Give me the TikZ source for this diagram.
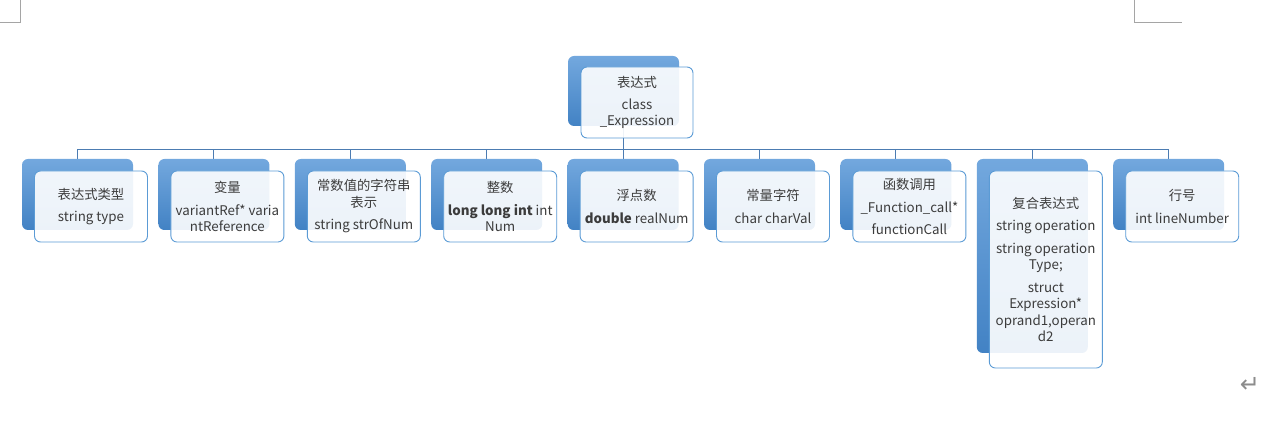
\documentclass[tikz,border=0pt]{standalone}
\usepackage{fontspec}
\setmainfont{Noto Sans CJK SC}
\newfontfamily\symfont{DejaVu Sans}
\usetikzlibrary{backgrounds}
\definecolor{bktop}{RGB}{115,168,222}
\definecolor{bkbot}{RGB}{66,130,196}
\definecolor{fbord}{RGB}{91,155,213}
\definecolor{conn}{RGB}{76,124,178}
\definecolor{txt}{RGB}{60,60,60}
\definecolor{pmark}{RGB}{165,165,165}
\definecolor{retmark}{RGB}{140,140,140}
\tikzset{
  backbox/.style={rectangle, rounded corners=6pt, minimum width=111pt, minimum height=71pt,
    inner sep=0pt, outer sep=0pt, top color=bktop, bottom color=bkbot, draw=none, anchor=north west},
  frontbox/.style={rectangle, rounded corners=6pt, minimum width=113pt, minimum height=71pt,
    inner sep=2pt, outer sep=0pt, draw=fbord, line width=0.9pt, fill=white, fill opacity=0.9,
    draw opacity=1, text opacity=1, text=txt, anchor=north west, align=center,
    font=\fontsize{13.33}{16.5}\selectfont},
  connline/.style={draw=conn, line width=0.9pt},
  pagemark/.style={draw=pmark, line width=1pt},
}
\begin{document}
\begin{tikzpicture}[x=1pt,y=-1pt]
\useasboundingbox (0,0) rectangle (1285,427);

% page corner marks
\coordinate (tl1) at (20,0); \coordinate (tl2) at (20,23); \coordinate (tl3) at (0,23);
\draw[pagemark] (tl1) -- (tl2) -- (tl3);
\coordinate (tr1) at (1134,0); \coordinate (tr2) at (1134,23); \coordinate (tr3) at (1182,23);
\draw[pagemark] (tr1) -- (tr2) -- (tr3);

% root
\node[backbox, minimum height=70pt] (rootb) at (568,56) {};
\node[frontbox, minimum width=112pt] (root) at (581,67) {表达式\\[5pt]class\\\_Expression};

% children back boxes
\node[backbox] (c1b) at (22,159) {};
\node[backbox] (c2b) at (158.4,159) {};
\node[backbox] (c3b) at (294.8,159) {};
\node[backbox] (c4b) at (431.2,159) {};
\node[backbox] (c5b) at (567.6,159) {};
\node[backbox] (c6b) at (704,159) {};
\node[backbox] (c7b) at (840.4,159) {};
\node[backbox, minimum height=194pt] (c8b) at (976.8,159) {};
\node[backbox] (c9b) at (1113.2,159) {};

% children front boxes
\node[frontbox] (c1) at (34.5,171) {表达式类型\\[6pt]string type};
\node[frontbox] (c2) at (170.9,171) {变量\\[6pt]variantRef* varia\\ntReference};
\node[frontbox] (c3) at (307.3,171) {常数值的字符串\\表示\\[6pt]string strOfNum};
\node[frontbox] (c4) at (443.7,171) {整数\\[6pt]\textbf{long long int} int\\Num};
\node[frontbox] (c5) at (580.1,171) {浮点数\\[6pt]\textbf{double} realNum};
\node[frontbox] (c6) at (716.5,171) {常量字符\\[6pt]char charVal};
\node[frontbox] (c7) at (852.9,171) {函数调用\\[6pt]\_Function\_call*\\[6pt]functionCall};
\node[frontbox, minimum height=197pt] (c8) at (989.3,171) {复合表达式\\[6pt]string operation\\[6pt]string operation\\Type;\\[6pt]struct\\Expression*\\oprand1,operan\\d2};
\node[frontbox] (c9) at (1125.7,171) {行号\\[6pt]int lineNumber};

% connectors
\begin{scope}[on background layer]
\foreach \n in {c1b,c2b,c3b,c4b,c5b,c6b,c7b,c8b,c9b}
  \draw[connline] (rootb.south) -- ++(0,23) -| (\n.north);
\end{scope}

% return mark
\node[text=retmark, font=\symfont\fontsize{24}{24}\selectfont, inner sep=0pt] (ret) at (1250,385) {↵};
\end{tikzpicture}
\end{document}
